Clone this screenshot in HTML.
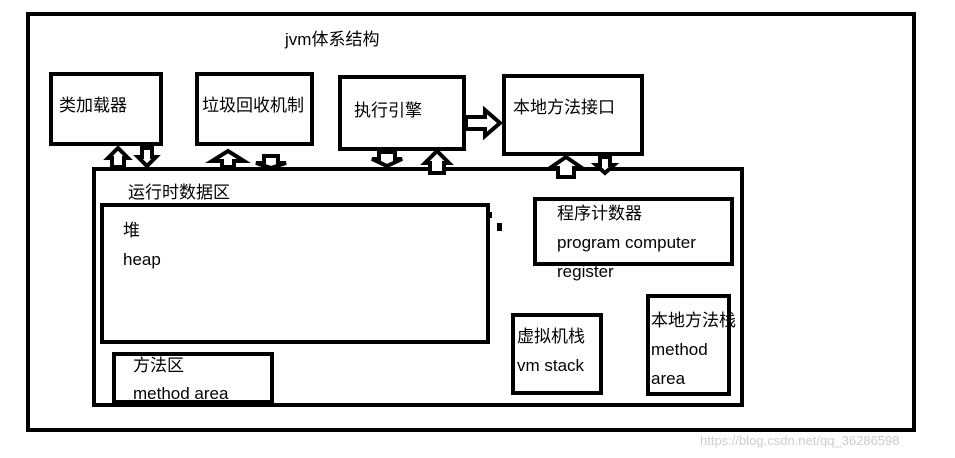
<!DOCTYPE html>
<html><head><meta charset="utf-8"><style>
html,body{margin:0;padding:0;width:955px;height:458px;background:#fff;overflow:hidden}
body{position:relative;font-family:"Liberation Sans","Noto Sans CJK SC",sans-serif;font-size:17px;color:#000}
.b{position:absolute;border:4px solid #000;box-sizing:border-box;background:transparent}
.t{position:absolute;white-space:nowrap;line-height:20px}
</style></head><body>
<div class="b" style="left:26px;top:12px;width:890px;height:420px"></div>
<div class="t" style="left:285px;top:30px">jvm体系结构</div>

<div class="b" style="left:49px;top:72px;width:114px;height:74px"></div>
<div class="t" style="left:59px;top:96px">类加载器</div>
<div class="b" style="left:195px;top:72px;width:119px;height:74px"></div>
<div class="t" style="left:202px;top:96px">垃圾回收机制</div>
<div class="b" style="left:338px;top:75px;width:128px;height:76px"></div>
<div class="t" style="left:354px;top:101px">执行引擎</div>
<div class="b" style="left:502px;top:74px;width:142px;height:82px"></div>
<div class="t" style="left:513px;top:98px">本地方法接口</div>

<div class="b" style="left:92px;top:167px;width:652px;height:240px"></div>
<div class="t" style="left:128px;top:183px">运行时数据区</div>
<div class="b" style="left:100px;top:203px;width:390px;height:141px"></div>
<div class="t" style="left:123px;top:221px">堆</div>
<div class="t" style="left:123px;top:250px">heap</div>
<div style="position:absolute;left:497px;top:223px;width:5px;height:8px;background:#000"></div>
<div style="position:absolute;left:488px;top:212px;width:4px;height:6px;background:#000"></div>

<div class="b" style="left:533px;top:197px;width:201px;height:69px"></div>
<div class="t" style="left:557px;top:204px">程序计数器</div>
<div class="t" style="left:557px;top:233px">program computer</div>
<div class="t" style="left:557px;top:262px">register</div>

<div class="b" style="left:112px;top:352px;width:162px;height:52px"></div>
<div class="t" style="left:133px;top:356px">方法区</div>
<div class="t" style="left:133px;top:384px">method area</div>

<div class="b" style="left:511px;top:313px;width:92px;height:82px"></div>
<div class="t" style="left:517px;top:327px">虚拟机栈</div>
<div class="t" style="left:517px;top:356px">vm stack</div>

<div class="b" style="left:646px;top:294px;width:85px;height:102px"></div>
<div class="t" style="left:651px;top:311px">本地方法栈</div>
<div class="t" style="left:651px;top:340px">method</div>
<div class="t" style="left:651px;top:369px">area</div>

<div class="t" style="left:700px;top:431px;font-size:13px;color:#ccc">https://blog.csdn.net/qq_36286598</div>

<svg width="955" height="458" style="position:absolute;left:0;top:0" fill="#fff" stroke="#000" stroke-width="4">
<polygon points="112,167 112,158 108,158 118,148 128,158 124,158 124,167"/>
<polygon points="142,148 142,157 138,157 147,166 156,157 152,157 152,148"/>
<polygon points="222,167 222,161 212,161 228,151 244,161 234,161 234,167"/>
<polygon points="264,156 264,163 256,163 271,168 286,163 278,163 278,156"/>
<polygon points="379,152 379,159 372,159 387,166 402,159 395,159 395,152"/>
<polygon points="430,173 430,163 425,163 437,151 449,163 444,163 444,173"/>
<polygon points="466,117 485,117 485,110 500,123 485,136 485,129 466,129"/>
<polygon points="558,177 558,168 550,168 566,157 582,168 574,168 574,177"/>
<polygon points="600,157 600,165 596,165 605,173 614,165 610,165 610,157"/>
</svg>
</body></html>
